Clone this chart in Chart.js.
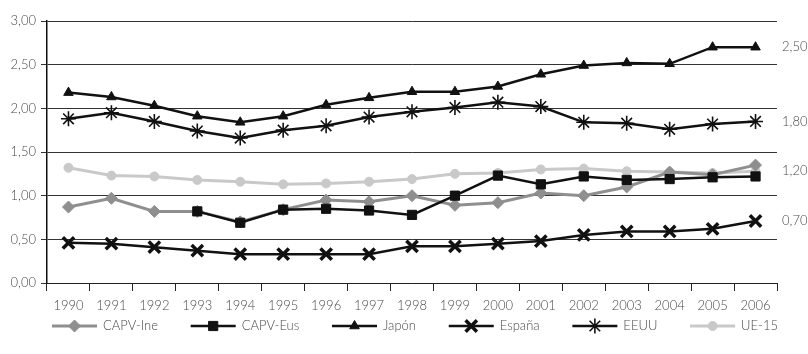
<!DOCTYPE html>
<html>
<head>
<meta charset="utf-8">
<script src="https://cdn.jsdelivr.net/npm/chart.js@4/dist/chart.umd.min.js"></script>
<style>
  html, body { margin: 0; padding: 0; background: #ffffff; }
  canvas { display: block; }
</style>
</head>
<body>
<canvas id="c" width="808" height="354"></canvas>
<script>
// Years on the horizontal axis
const years = ['1990','1991','1992','1993','1994','1995','1996','1997','1998',
               '1999','2000','2001','2002','2003','2004','2005','2006'];

// Series values (% of GDP)
const capvIne = [0.87,0.97,0.82,0.82,0.70,0.84,0.95,0.93,1.00,0.89,0.92,1.03,1.00,1.10,1.27,1.24,1.35];
const capvEus = [null,null,null,0.82,0.69,0.84,0.85,0.83,0.78,1.00,1.23,1.13,1.22,1.18,1.19,1.21,1.22];
const japon   = [2.18,2.13,2.03,1.91,1.84,1.91,2.04,2.12,2.19,2.19,2.25,2.39,2.49,2.52,2.51,2.70,2.70];
const espana  = [0.46,0.45,0.41,0.37,0.33,0.33,0.33,0.33,0.42,0.42,0.45,0.48,0.55,0.59,0.59,0.62,0.71];
const eeuu    = [1.88,1.95,1.85,1.74,1.66,1.75,1.80,1.90,1.96,2.01,2.07,2.02,1.84,1.83,1.76,1.82,1.85];
const ue15    = [1.32,1.23,1.22,1.18,1.16,1.13,1.14,1.16,1.19,1.25,1.26,1.30,1.31,1.28,1.27,1.26,1.28];

// Side notes written to the right of the last year, next to their series
const sideNoteTexts  = ['2,50', '1,80', '1,20', '0,70'];
const sideNoteSeries = ['Japón', 'EEUU', 'UE-15', 'España'];

// Y axis tick values
const yTicks = [0, 0.5, 1, 1.5, 2, 2.5, 3];

const FONT = 'Lato, "Open Sans", sans-serif';
const FONT_SIZE = 13;
const FONT_WEIGHT = 300;
const TEXT = '#4a4a4a';
const CSS_FONT = FONT_WEIGHT + ' ' + FONT_SIZE + 'px ' + FONT;

const datasets = [
  { label: 'CAPV-Ine', data: capvIne, borderColor: '#8f8f8f', backgroundColor: '#8f8f8f',
    borderWidth: 3, pointStyle: 'rectRot', pointRadius: 6, pointBorderWidth: 1, order: 5 },
  { label: 'CAPV-Eus', data: capvEus, borderColor: '#111111', backgroundColor: '#111111',
    borderWidth: 2.5, pointStyle: 'rect', pointRadius: 6.5, pointBorderWidth: 1, order: 1 },
  { label: 'Japón', data: japon, borderColor: '#111111', backgroundColor: '#111111',
    borderWidth: 2.5, pointStyle: 'triangle', pointRadius: 5.5, pointBorderWidth: 1, order: 2 },
  { label: 'España', data: espana, borderColor: '#111111', backgroundColor: '#111111',
    borderWidth: 2.5, pointStyle: 'crossRot', pointRadius: 8, pointBorderWidth: 3.5, order: 3 },
  { label: 'EEUU', data: eeuu, borderColor: '#111111', backgroundColor: '#111111',
    borderWidth: 2.5, pointStyle: 'star', pointRadius: 7.5, pointBorderWidth: 1.6, order: 4 },
  { label: 'UE-15', data: ue15, borderColor: '#c9c9c9', backgroundColor: '#c9c9c9',
    borderWidth: 3, pointStyle: 'circle', pointRadius: 4.5, pointBorderWidth: 1, order: 6 }
];
datasets.forEach(d => {
  d.pointBackgroundColor = d.backgroundColor;
  d.pointBorderColor = d.borderColor;
  d.tension = 0;
  d.spanGaps = false;
});

function marker(ctx, ds, x, y) {
  ctx.save();
  ctx.fillStyle = ds.pointBackgroundColor;
  ctx.strokeStyle = ds.pointBorderColor;
  ctx.lineWidth = ds.pointBorderWidth;
  Chart.helpers.drawPoint(ctx, {
    pointStyle: ds.pointStyle, radius: ds.pointRadius,
    borderWidth: ds.pointBorderWidth, rotation: 0
  }, x, y);
  ctx.restore();
}

// Notes next to the final points, and the legend row under the axis
const extras = {
  id: 'extras',
  afterDraw(chart) {
    const ctx = chart.ctx;
    const area = chart.chartArea;
    const yScale = chart.scales.y;

    ctx.save();
    ctx.font = CSS_FONT;
    ctx.fillStyle = TEXT;
    ctx.textBaseline = 'middle';
    ctx.textAlign = 'left';
    sideNoteTexts.forEach((t, i) => {
      const ds = chart.data.datasets.find(d => d.label === sideNoteSeries[i]);
      const last = ds.data[ds.data.length - 1];
      ctx.fillText(t, area.right + 5, yScale.getPixelForValue(last));
    });

    // legend: items justified across the width of the plot
    const ly = 326;
    const lineLen = 45;
    const textGap = 6;
    const dsets = chart.data.datasets;
    const widths = dsets.map(ds => lineLen + textGap + ctx.measureText(ds.label).width);
    const left = area.left + 5;
    const right = area.right + 1;
    const gap = (right - left - widths.reduce((a, b) => a + b, 0)) / (dsets.length - 1);
    let x = left;
    dsets.forEach((ds, i) => {
      ctx.save();
      ctx.strokeStyle = ds.borderColor;
      ctx.lineWidth = ds.borderWidth;
      ctx.beginPath();
      ctx.moveTo(x, ly);
      ctx.lineTo(x + lineLen, ly);
      ctx.stroke();
      ctx.restore();
      marker(ctx, ds, x + lineLen / 2, ly);
      ctx.fillStyle = TEXT;
      ctx.font = CSS_FONT;
      ctx.textAlign = 'left';
      ctx.textBaseline = 'middle';
      ctx.fillText(ds.label, x + lineLen + textGap, ly);
      x += widths[i] + gap;
    });
    ctx.restore();
  }
};

const tickFont = { family: FONT, size: FONT_SIZE, weight: FONT_WEIGHT };

new Chart(document.getElementById('c'), {
  type: 'line',
  data: { labels: years, datasets },
  plugins: [extras],
  options: {
    responsive: false,
    animation: false,
    layout: { padding: { left: 0, right: 31, top: 21, bottom: 40 } },
    plugins: { legend: { display: false }, tooltip: { enabled: false } },
    scales: {
      x: {
        offset: true,
        grid: { offset: true, drawOnChartArea: false, drawTicks: true, tickLength: 8,
                color: '#222222', lineWidth: 1 },
        border: { color: '#222222', width: 1 },
        ticks: { color: TEXT, font: tickFont, padding: 7, maxRotation: 0, autoSkip: false },
        afterFit(s) { s.height = 31; }
      },
      y: {
        min: 0, max: 3,
        afterBuildTicks(s) { s.ticks = yTicks.map(v => ({ value: v })); },
        ticks: { color: TEXT, font: tickFont, padding: 5,
                 callback: v => v.toFixed(2).replace('.', ',') },
        grid: { color: '#333333', lineWidth: 1, tickLength: 6 },
        border: { color: '#111111', width: 1.5 },
        afterFit(s) { s.width = 47; }
      }
    }
  }
});
</script>
</body>
</html>
